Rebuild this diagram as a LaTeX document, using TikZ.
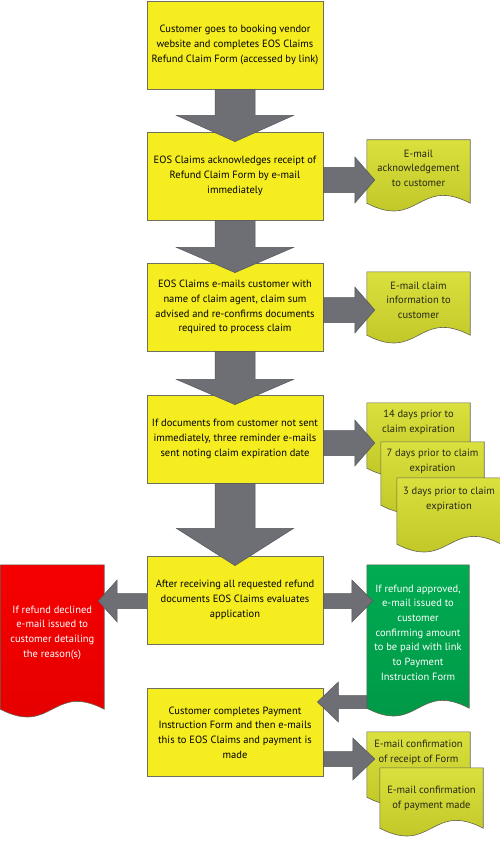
\documentclass[tikz,border=0pt]{standalone}
\usepackage{fontspec}
\setmainfont{PT Sans}
\usetikzlibrary{calc,backgrounds}
\definecolor{boxyellow}{RGB}{245,237,32}
\definecolor{boxline}{RGB}{112,112,96}
\definecolor{docTop}{RGB}{218,225,62}
\definecolor{docBot}{RGB}{186,193,34}
\definecolor{docline}{RGB}{100,100,80}
\definecolor{redTop}{RGB}{245,0,0}
\definecolor{redBot}{RGB}{228,0,0}
\definecolor{greenTop}{RGB}{0,172,82}
\definecolor{greenBot}{RGB}{0,150,70}
\definecolor{arrowgray}{RGB}{110,111,116}
\definecolor{arrowline}{RGB}{85,86,90}
\definecolor{doctext}{RGB}{40,40,20}
\newcommand\fs{\fontsize{10.5}{14.7}\selectfont}
% wavy document background drawn from the node's anchors
\newcommand\docbg[2]{%
  \begin{scope}[on background layer]
  \path[#2] (#1.north west) -- (#1.north east) -- (#1.south east)
    .. controls ($(#1.south)+(0,-27)$) and ($(#1.south)+(0,27)$) .. (#1.south west) -- cycle;
  \end{scope}}
% vertical block arrow: #1 src, #2 dst, #3 shaft length, #4 tip overlap
\newcommand\darrow[4]{%
  \coordinate (T) at ($(#2.north)+(0,#4)$);
  \path[blockarrow] ($(#1.south)+(-20,0)$) -- ($(#1.south)+(-20,#3)$) -- ($(#1.south)+(-58.5,#3)$)
    -- (T) -- ($(#1.south)+(58.5,#3)$) -- ($(#1.south)+(20,#3)$) -- ($(#1.south)+(20,0)$) -- cycle;}
% horizontal block arrow: #1 src anchor, #2 dst anchor, #3 dy, #4 shaft half, #5 head half,
% #6 signed head length, #7 signed tip overlap
\newcommand\harrow[7]{%
  \coordinate (T) at ($(#2 |- #1)+({#7},{#3})$);
  \path[blockarrow] ($(#1)+(0,{#3-#4})$) -- ($(T)+({-1*(#6)},{-#4})$) -- ($(T)+({-1*(#6)},{-#5})$)
    -- (T) -- ($(T)+({-1*(#6)},{#5})$) -- ($(T)+({-1*(#6)},{#4})$) -- ($(#1)+(0,{#3+#4})$) -- cycle;}
\begin{document}
\begin{tikzpicture}[x=1pt,y=-1pt,
  box/.style={draw=boxline, line width=0.8pt, fill=boxyellow, minimum width=176pt,
    minimum height=88pt, align=center, inner sep=2pt, font=\fs, text=black},
  docnode/.style={align=center, inner sep=0pt, font=\fs, text=doctext},
  docfill/.style={draw=docline, line width=0.6pt, top color=docTop, bottom color=docBot},
  redfill/.style={draw=docline, line width=0.6pt, top color=redTop, bottom color=redBot},
  greenfill/.style={draw=docline, line width=0.6pt, top color=greenTop, bottom color=greenBot},
  blockarrow/.style={fill=arrowgray, draw=arrowline, line width=0.5pt}]
\useasboundingbox (0,0) rectangle (500,845);
\begin{scope}[on background layer]
\fill[white] (0,0) rectangle (500,845);
\end{scope}

% main process boxes
\node[box] (b1) at (235,45) {Customer goes to booking vendor\\website and completes EOS Claims\\Refund Claim Form (accessed by link)};
\node[box] (b2) at (235,176) {EOS Claims acknowledges receipt of\\Refund Claim Form by e-mail\\immediately};
\node[box] (b3) at (235,307) {EOS Claims e-mails customer with\\name of claim agent, claim sum\\advised and re-confirms documents\\required to process claim};
\node[box] (b4) at (235,439) {If documents from customer not sent\\immediately, three reminder e-mails\\sent noting claim expiration date};
\node[box] (b5) at (235,600) {After receiving all requested refund\\documents EOS Claims evaluates\\application};
\node[box] (b6) at (235,732.5) {Customer completes Payment\\Instruction Form and then e-mails\\this to EOS Claims and payment is\\made};

% documents
\node[docnode, minimum width=103pt, minimum height=63pt, text depth=7pt] (d1) at (418.5,171.5) {E-mail\\acknowledgement\\to customer};
\docbg{d1}{docfill}
\node[docnode, minimum width=103pt, minimum height=63pt, text depth=7pt] (d2) at (418.5,303.5) {E-mail claim\\information to\\customer};
\docbg{d2}{docfill}
\node[docnode, minimum width=103pt, minimum height=65pt, text depth=28pt] (da) at (418.5,435.5) {14 days prior to\\claim expiration};
\docbg{da}{docfill}
\node[docnode, minimum width=103pt, minimum height=63pt, text depth=27pt] (db) at (432.5,473.5) {7 days prior to claim\\expiration};
\docbg{db}{docfill}
\node[docnode, minimum width=104pt, minimum height=66pt, text depth=25pt] (dc) at (449,511) {3 days prior to claim\\expiration};
\docbg{dc}{docfill}
\node[docnode, minimum width=103.5pt, minimum height=144pt, text depth=11pt, text=white] (red) at (52.25,637) {If refund declined\\e-mail issued to\\customer detailing\\the reason(s)};
\docbg{red}{redfill}
\node[docnode, minimum width=102pt, minimum height=143pt, text depth=8pt, text=white] (green) at (418,636.5) {If refund approved,\\e-mail issued to\\customer\\confirming amount\\to be paid with link\\to Payment\\Instruction Form};
\docbg{green}{greenfill}
\node[docnode, minimum width=103pt, minimum height=65pt, text depth=27pt] (dd) at (418.5,764.5) {E-mail confirmation\\of receipt of Form};
\docbg{dd}{docfill}
\node[docnode, minimum width=103pt, minimum height=60pt] (de) at (431.5,798) {E-mail confirmation\\of payment made};
\docbg{de}{docfill}

% vertical arrows
\darrow{b1}{b2}{26}{10}
\darrow{b2}{b3}{27}{10}
\darrow{b3}{b4}{28}{10}
\darrow{b4}{b5}{45}{10}

% horizontal arrows
\harrow{b2.east}{d1.west}{4}{12.5}{23}{20}{8}
\harrow{b3.east}{d2.west}{3}{12.5}{23}{20}{8}
\harrow{b4.east}{da.west}{4}{12.5}{23}{20}{8}
\harrow{b5.west}{red.east}{1}{7.5}{21}{-19}{-6}
\harrow{b5.east}{green.west}{1}{7.5}{21}{21}{6}
\harrow{green.west}{b6.east}{65.5}{6.5}{20}{-21}{-6}
\harrow{b6.east}{dd.west}{26.5}{7.5}{21}{22}{8}
\end{tikzpicture}
\end{document}
